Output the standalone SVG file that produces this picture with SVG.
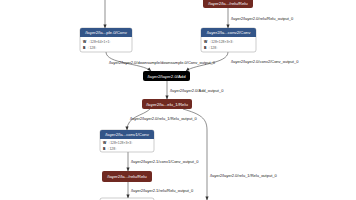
<svg xmlns="http://www.w3.org/2000/svg" width="356" height="200" viewBox="0 0 356 200">
<defs>
<marker id="arr" viewBox="0 0 10 10" refX="9" refY="5" markerWidth="4" markerHeight="4" orient="auto" markerUnits="userSpaceOnUse">
<path d="M0,1 L10,5 L0,9 z" fill="#333"/>
</marker>
<style>
.edge{fill:none;stroke:#444;stroke-width:0.6;marker-end:url(#arr)}
.lbl{font-family:"Liberation Sans",Arial,sans-serif;font-size:4px;fill:#222}
.ttl{font-family:"Liberation Sans",Arial,sans-serif;font-size:4.3px;fill:#fff;text-anchor:middle}
.attr{font-family:"Liberation Sans",Arial,sans-serif;font-size:3.4px;fill:#555}
.attr tspan.k{font-weight:bold;fill:#000}
.body{fill:#fff;stroke:#999;stroke-width:0.5}
.conv{fill:#335588}
.act{fill:#702921}
.oth{fill:#000}
</style>
</defs>
<rect width="356" height="200" fill="#fff"/>
<g id="edges">
<path class="edge" d="M105,0 L105,28"/>
<path class="edge" d="M228,8 L228,28"/>
<path class="edge" d="M106,52 C106,64 142,63 151,71"/>
<path class="edge" d="M228,52 C228,64 195,64 186,71"/>
<path class="edge" d="M167,81 L167,99"/>
<path class="edge" d="M150,109 C143,116 127,116 127,130"/>
<path class="edge" d="M183,109 C200,114 207,118 207,130 L207,200"/>
<path class="edge" d="M128,152 L128,171"/>
<path class="edge" d="M128,182 L128,198"/>
<text class="lbl" x="231" y="19.5">/layer2/layer2.0/relu/Relu_output_0</text>
<text class="lbl" x="109" y="63.5">/layer2/layer2.0/downsample/downsample.0/Conv_output_0</text>
<text class="lbl" x="231" y="62.5">/layer2/layer2.0/conv2/Conv_output_0</text>
<text class="lbl" x="170" y="91.5">/layer2/layer2.0/Add_output_0</text>
<text class="lbl" x="130" y="119.5">/layer2/layer2.0/relu_1/Relu_output_0</text>
<text class="lbl" x="210" y="177">/layer2/layer2.0/relu_1/Relu_output_0</text>
<text class="lbl" x="131" y="163">/layer2/layer2.1/conv1/Conv_output_0</text>
<text class="lbl" x="131" y="192">/layer2/layer2.1/relu/Relu_output_0</text>
</g>
<g id="relu0">
<rect class="act" x="203" y="-3" width="50" height="11" rx="2"/>
<text class="ttl" x="228" y="5">/layer2/la.../relu/Relu</text>
</g>
<g id="ds_conv">
<rect class="body" x="80" y="28" width="52" height="24" rx="2"/>
<path class="conv" d="M82,28 H130 A2,2 0 0 1 132,30 V37 H80 V30 A2,2 0 0 1 82,28 z"/>
<text class="ttl" x="106" y="34.2">/layer2/la...ple.0/Conv</text>
<text class="attr" x="83" y="43"><tspan class="k">W</tspan> 〈128×64×1×1〉</text>
<text class="attr" x="83" y="49"><tspan class="k">B</tspan> 〈128〉</text>
</g>
<g id="conv2">
<rect class="body" x="201" y="28" width="55" height="24" rx="2"/>
<path class="conv" d="M203,28 H254 A2,2 0 0 1 256,30 V37 H201 V30 A2,2 0 0 1 203,28 z"/>
<text class="ttl" x="228.5" y="34.2">/layer2/la...conv2/Conv</text>
<text class="attr" x="204" y="43"><tspan class="k">W</tspan> 〈128×128×3×3〉</text>
<text class="attr" x="204" y="49"><tspan class="k">B</tspan> 〈128〉</text>
</g>
<g id="add">
<rect class="oth" x="143" y="71" width="47" height="10" rx="2"/>
<text class="ttl" x="166.5" y="77.6">/layer2/layer2.0/Add</text>
</g>
<g id="relu1">
<rect class="act" x="142" y="99" width="50" height="10" rx="2"/>
<text class="ttl" x="167" y="105.6">/layer2/la...elu_1/Relu</text>
</g>
<g id="conv1">
<rect class="body" x="100" y="130" width="54" height="22" rx="2"/>
<path class="conv" d="M102,130 H152 A2,2 0 0 1 154,132 V139 H100 V132 A2,2 0 0 1 102,130 z"/>
<text class="ttl" x="127" y="136.2">/layer2/la...conv1/Conv</text>
<text class="attr" x="103" y="144"><tspan class="k">W</tspan> 〈128×128×3×3〉</text>
<text class="attr" x="103" y="149.5"><tspan class="k">B</tspan> 〈128〉</text>
</g>
<g id="relu2">
<rect class="act" x="102" y="171" width="50" height="11" rx="2"/>
<text class="ttl" x="127" y="178">/layer2/la.../relu/Relu</text>
</g>
<g id="next">
<rect class="body" x="100" y="198" width="54" height="10" rx="2"/>
</g>
</svg>
